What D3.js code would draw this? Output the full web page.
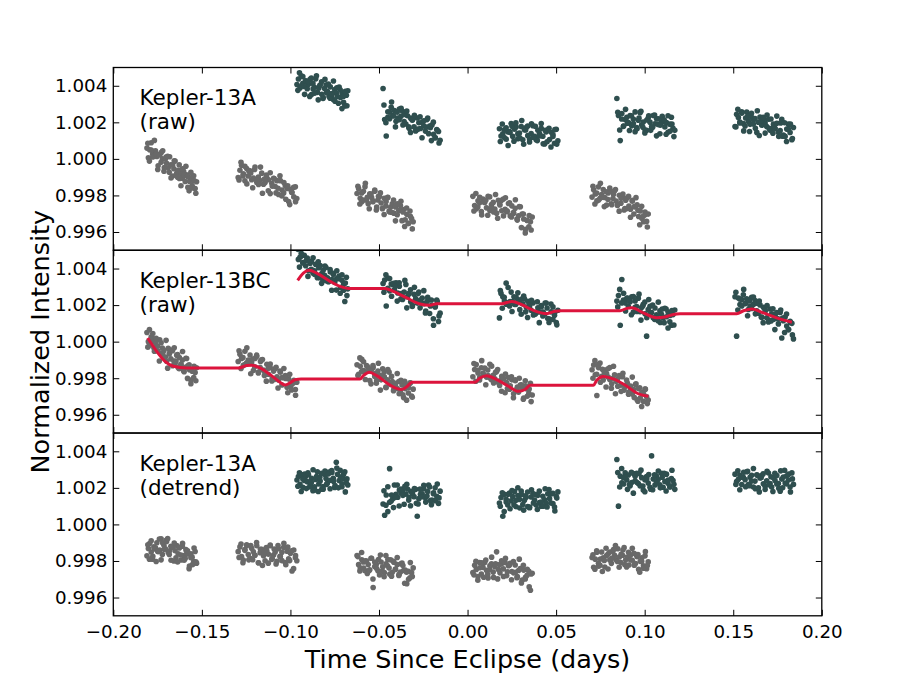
<!DOCTYPE html>
<html>
<head>
<meta charset="utf-8">
<script src="https://cdn.jsdelivr.net/npm/d3@7"></script>
<style>
body { margin: 0; background: #fff; }
text { font-family: "DejaVu Sans", sans-serif; }
</style>
</head>
<body>
<script>
// observing windows, time since eclipse (days); "b" arrays are the second pass over each window
var tg1 = [-0.1810,-0.1802,-0.1795,-0.1786,-0.1778,-0.1771,-0.1762,-0.1754,-0.1747,-0.1738,-0.1730,-0.1723,-0.1714,-0.1706,-0.1699,-0.1690,-0.1682,-0.1675,-0.1666,-0.1658,-0.1651,-0.1642,-0.1634,-0.1627,-0.1618,-0.1610,-0.1603,-0.1594,-0.1586,-0.1579,-0.1570,-0.1562,-0.1555,-0.1546,-0.1538,-0.1530];
var tg2 = [-0.1295,-0.1285,-0.1276,-0.1266,-0.1257,-0.1247,-0.1238,-0.1228,-0.1219,-0.1209,-0.1200,-0.1190,-0.1181,-0.1171,-0.1162,-0.1152,-0.1143,-0.1133,-0.1124,-0.1114,-0.1105,-0.1095,-0.1086,-0.1076,-0.1067,-0.1057,-0.1048,-0.1038,-0.1029,-0.1019,-0.1010,-0.1000,-0.0991,-0.0981,-0.0972,-0.0964];
var tg3 = [-0.0624,-0.0615,-0.0606,-0.0597,-0.0588,-0.0579,-0.0570,-0.0561,-0.0552,-0.0542,-0.0533,-0.0524,-0.0515,-0.0506,-0.0497,-0.0488,-0.0479,-0.0470,-0.0461,-0.0452,-0.0443,-0.0434,-0.0425,-0.0416,-0.0407,-0.0397,-0.0388,-0.0379,-0.0370,-0.0361,-0.0352,-0.0343,-0.0334,-0.0325,-0.0316,-0.0307];
var tg4 = [0.0030,0.0040,0.0049,0.0059,0.0068,0.0078,0.0087,0.0097,0.0107,0.0116,0.0126,0.0135,0.0145,0.0154,0.0164,0.0174,0.0183,0.0193,0.0202,0.0212,0.0221,0.0231,0.0241,0.0250,0.0260,0.0269,0.0279,0.0288,0.0298,0.0308,0.0317,0.0327,0.0336,0.0346,0.0355,0.0365];
var tg5 = [0.0703,0.0712,0.0721,0.0730,0.0739,0.0748,0.0757,0.0766,0.0775,0.0785,0.0794,0.0803,0.0812,0.0821,0.0830,0.0839,0.0848,0.0857,0.0866,0.0875,0.0884,0.0893,0.0902,0.0911,0.0920,0.0930,0.0939,0.0948,0.0957,0.0966,0.0975,0.0984,0.0993,0.1002,0.1011,0.1020];
var td1 = [-0.0963,-0.0955,-0.0946,-0.0939,-0.0930,-0.0922,-0.0914,-0.0905,-0.0898,-0.0889,-0.0881,-0.0873,-0.0864,-0.0857,-0.0848,-0.0840,-0.0832,-0.0823,-0.0816,-0.0807,-0.0799,-0.0791,-0.0782,-0.0775,-0.0766,-0.0758,-0.0750,-0.0741,-0.0734,-0.0725,-0.0717,-0.0709,-0.0700,-0.0693,-0.0684,-0.0676];
var td2 = [-0.0477,-0.0468,-0.0459,-0.0450,-0.0440,-0.0431,-0.0422,-0.0413,-0.0404,-0.0394,-0.0385,-0.0376,-0.0367,-0.0358,-0.0348,-0.0339,-0.0330,-0.0321,-0.0312,-0.0302,-0.0293,-0.0284,-0.0275,-0.0266,-0.0256,-0.0247,-0.0238,-0.0229,-0.0220,-0.0210,-0.0201,-0.0192,-0.0183,-0.0174,-0.0164,-0.0155];
var td3 = [0.0180,0.0189,0.0199,0.0208,0.0218,0.0227,0.0237,0.0246,0.0255,0.0265,0.0274,0.0284,0.0293,0.0303,0.0312,0.0321,0.0331,0.0340,0.0350,0.0359,0.0369,0.0378,0.0387,0.0397,0.0406,0.0416,0.0425,0.0435,0.0444,0.0453,0.0463,0.0472,0.0482,0.0491,0.0501,0.0510];
var td4 = [0.0843,0.0852,0.0862,0.0871,0.0880,0.0890,0.0899,0.0908,0.0918,0.0927,0.0936,0.0946,0.0955,0.0964,0.0974,0.0983,0.0992,0.1002,0.1011,0.1020,0.1030,0.1039,0.1048,0.1058,0.1067,0.1076,0.1086,0.1095,0.1104,0.1114,0.1123,0.1132,0.1142,0.1151,0.1160,0.1170];
var td5 = [0.1510,0.1519,0.1529,0.1538,0.1548,0.1557,0.1567,0.1576,0.1585,0.1595,0.1604,0.1614,0.1623,0.1633,0.1642,0.1651,0.1661,0.1670,0.1680,0.1689,0.1699,0.1708,0.1717,0.1727,0.1736,0.1746,0.1755,0.1765,0.1774,0.1783,0.1793,0.1802,0.1812,0.1821,0.1831,0.1840];

var tg1b = [-0.1805,-0.1796,-0.1786,-0.1777,-0.1768,-0.1758,-0.1749,-0.1740,-0.1730,-0.1721,-0.1712,-0.1702,-0.1693,-0.1684,-0.1674,-0.1665,-0.1656,-0.1646,-0.1637,-0.1628,-0.1618,-0.1609,-0.1600,-0.1590,-0.1581,-0.1572,-0.1562,-0.1553,-0.1544,-0.1534];
var tg2b = [-0.1290,-0.1279,-0.1268,-0.1257,-0.1246,-0.1235,-0.1224,-0.1213,-0.1202,-0.1191,-0.1180,-0.1169,-0.1158,-0.1147,-0.1136,-0.1125,-0.1114,-0.1103,-0.1092,-0.1081,-0.1070,-0.1059,-0.1048,-0.1037,-0.1026,-0.1015,-0.1004,-0.0993,-0.0982,-0.0971];
var tg3b = [-0.0619,-0.0608,-0.0598,-0.0587,-0.0577,-0.0566,-0.0555,-0.0545,-0.0534,-0.0524,-0.0513,-0.0503,-0.0492,-0.0481,-0.0471,-0.0460,-0.0450,-0.0439,-0.0429,-0.0418,-0.0407,-0.0397,-0.0386,-0.0376,-0.0365,-0.0355,-0.0344,-0.0333,-0.0323,-0.0312];
var tg4b = [0.0036,0.0047,0.0058,0.0069,0.0080,0.0091,0.0103,0.0114,0.0125,0.0136,0.0147,0.0158,0.0170,0.0181,0.0192,0.0203,0.0214,0.0225,0.0237,0.0248,0.0259,0.0270,0.0281,0.0292,0.0304,0.0315,0.0326,0.0337,0.0348,0.0359];
var tg5b = [0.0708,0.0719,0.0729,0.0740,0.0750,0.0761,0.0772,0.0782,0.0793,0.0803,0.0814,0.0824,0.0835,0.0846,0.0856,0.0867,0.0877,0.0888,0.0898,0.0909,0.0920,0.0930,0.0941,0.0951,0.0962,0.0972,0.0983,0.0994,0.1004,0.1015];
var td1b = [-0.0958,-0.0949,-0.0939,-0.0930,-0.0920,-0.0910,-0.0901,-0.0891,-0.0882,-0.0872,-0.0863,-0.0853,-0.0843,-0.0834,-0.0824,-0.0815,-0.0805,-0.0796,-0.0786,-0.0776,-0.0767,-0.0757,-0.0748,-0.0738,-0.0729,-0.0719,-0.0709,-0.0700,-0.0690,-0.0681];
var td2b = [-0.0472,-0.0461,-0.0450,-0.0440,-0.0429,-0.0418,-0.0407,-0.0397,-0.0386,-0.0375,-0.0365,-0.0354,-0.0343,-0.0332,-0.0322,-0.0311,-0.0300,-0.0289,-0.0279,-0.0268,-0.0257,-0.0247,-0.0236,-0.0225,-0.0214,-0.0204,-0.0193,-0.0182,-0.0171,-0.0161];
var td3b = [0.0185,0.0196,0.0207,0.0218,0.0229,0.0240,0.0251,0.0262,0.0273,0.0284,0.0295,0.0306,0.0317,0.0328,0.0339,0.0350,0.0361,0.0372,0.0383,0.0394,0.0405,0.0416,0.0427,0.0438,0.0449,0.0460,0.0471,0.0482,0.0493,0.0504];
var td4b = [0.0848,0.0859,0.0870,0.0881,0.0892,0.0903,0.0914,0.0925,0.0936,0.0946,0.0957,0.0968,0.0979,0.0990,0.1001,0.1012,0.1023,0.1034,0.1045,0.1056,0.1067,0.1077,0.1088,0.1099,0.1110,0.1121,0.1132,0.1143,0.1154,0.1165];
var td5b = [0.1515,0.1526,0.1537,0.1548,0.1559,0.1570,0.1581,0.1592,0.1603,0.1614,0.1625,0.1636,0.1647,0.1658,0.1669,0.1680,0.1691,0.1702,0.1713,0.1724,0.1735,0.1746,0.1757,0.1768,0.1779,0.1790,0.1801,0.1812,0.1823,0.1834];

// flux offsets from 1.0 in ppm
// Kepler-13A raw
var aRawG1 = [590,60,500,880,270,160,440,130,-380,240,340,0,-680,-10,-240,-490,120,-330,-940,-540,-120,-790,-630,-1070,-780,-1060,-680,-1240,-870,-1560,-1220,-1030,-1460,-920,-1620,-1250];
var aRawG2 = [-1020,-620,-350,-810,-1200,-530,-930,-650,-1140,-1050,-440,-1290,-990,-1180,-780,-1390,-1290,-1050,-1140,-1900,-1340,-1060,-1510,-1190,-1950,-1190,-1700,-1860,-1470,-1620,-2330,-1660,-1840,-2080,-1530,-2170];
var aRawG3 = [-1890,-1630,-2160,-2350,-1770,-1520,-2250,-2450,-1910,-2100,-2290,-1770,-2800,-2250,-2060,-2410,-2690,-2160,-2580,-2120,-2860,-2630,-2460,-2970,-2630,-3060,-2820,-2550,-3380,-2770,-3330,-3030,-3520,-2850,-3270,-3440];
var aRawG4 = [-2050,-2550,-2740,-2290,-2400,-2880,-2200,-2390,-2680,-2050,-2820,-2500,-2380,-2740,-2970,-2260,-2520,-2840,-2200,-2760,-2890,-2440,-3120,-2570,-2970,-2700,-3290,-3110,-2620,-3020,-3290,-3850,-3360,-3720,-3440,-3180];
var aRawG5 = [-2090,-1690,-1920,-2300,-1530,-2160,-1950,-1680,-2110,-2530,-1870,-1760,-2460,-2170,-1740,-2310,-2500,-1990,-2430,-2080,-2800,-2260,-2130,-2580,-2750,-2320,-3020,-2620,-2510,-3150,-2850,-3250,-3130,-2910,-3420,-3020];
var aRawD1 = [4070,4370,3880,4550,4130,3960,4270,3840,4080,4350,3520,4130,3920,4380,3640,3870,4040,3530,3300,3850,4040,3690,3410,3940,3450,3250,3790,3600,3410,3930,3360,3620,3090,2900,3480,3730];
var aRawD2 = [3850,2150,1250,2280,2560,2820,2380,2650,2060,2240,2730,2330,2600,2040,1910,2360,1680,2230,2120,1760,1530,2240,1980,1660,2000,1810,1520,2150,1380,1700,1850,1350,1160,1610,1500,1020];
var aRawD3 = [1650,1250,1370,1590,1080,1480,1500,1930,1230,1630,1740,1100,1420,1770,1050,1590,1720,1270,1090,1380,1810,1240,1050,1560,1400,1670,1240,820,1480,1590,1060,1460,1230,850,1620,990];
var aRawD4 = [3300,2370,1000,2480,1780,2150,2270,1990,2370,1810,2180,1490,1710,2110,2530,1860,2020,1580,1570,2240,2010,1760,2370,1920,2190,1880,1370,1990,2090,1750,1990,1460,1900,2280,1670,1560];
var aRawD5 = [1770,2440,2260,2020,2570,1930,1800,2560,2050,1890,2280,2130,2210,1450,2010,2290,1840,2160,1960,1770,2170,1560,1660,1900,1670,1950,1460,1550,2160,1310,1230,1630,1900,1440,1050,1720];
var aRawG1b = [850,-120,480,100,1010,250,-580,230,-190,440,-480,100,140,-730,-1040,-330,-100,-900,-1000,-330,-1470,-540,-890,-400,-960,-1750,-740,-1590,-1190,-1880];
var aRawG2b = [-1150,-190,-930,-400,-1370,-660,-770,-1580,-580,-1170,-1400,-450,-1880,-1100,-890,-1750,-760,-1490,-1080,-1860,-1610,-920,-2030,-1290,-2210,-1470,-2500,-1820,-1550,-2340];
var aRawG3b = [-1500,-2470,-1870,-2250,-1340,-2100,-2730,-1920,-2340,-1710,-2630,-2050,-1860,-2730,-3040,-2330,-2100,-2900,-2920,-2250,-3390,-2460,-2810,-2320,-2910,-3700,-2690,-3540,-3140,-3830];
var aRawG4b = [-2850,-1890,-2630,-2100,-3070,-2360,-2270,-3080,-2080,-2670,-2900,-1950,-3250,-2470,-2260,-3120,-2130,-2860,-2400,-3180,-2930,-2240,-3350,-2610,-3760,-3020,-4050,-3370,-3100,-3890];
var aRawG5b = [-1500,-2470,-1870,-2250,-1340,-2100,-2610,-1800,-2220,-1590,-2510,-1930,-1680,-2550,-2860,-2150,-1920,-2720,-2720,-2050,-3190,-2260,-2610,-2120,-2810,-3600,-2590,-3440,-3040,-3730];
var aRawD1b = [3750,4710,3970,4500,3530,4240,4230,3420,4420,3830,3600,4550,3230,4010,4220,3360,4350,3620,4100,3320,3570,4260,3150,3890,3040,3780,2750,3430,3700,2910];
var aRawD2b = [2950,1980,2580,2200,3110,2350,1750,2560,2140,2770,1850,2430,2620,1750,1440,2150,2380,1580,1630,2300,1160,2090,1740,2230,1790,1000,2010,1160,1560,870];
var aRawD3b = [950,1910,1170,1700,730,1440,1780,970,1970,1380,1150,2100,800,1580,1790,930,1920,1190,1780,1000,1250,1940,830,1570,940,1680,650,1330,1600,810];
var aRawD4b = [2550,1580,2180,1800,2710,1950,1550,2360,1940,2570,1650,2230,2600,1730,1420,2130,2360,1560,1730,2400,1260,2190,1840,2330,2140,1350,2360,1510,1910,1220];
var aRawD5b = [1750,2710,1970,2500,1530,2240,2310,1500,2500,1910,1680,2630,1280,2060,2270,1410,2400,1670,2180,1400,1650,2340,1230,1970,1240,1980,950,1630,1900,1110];

// Kepler-13BC raw
var bcRawG1 = [500,0,-190,260,150,-330,-50,-240,-530,100,-670,-350,-480,-840,-1070,-360,-620,-940,-500,-1060,-1190,-740,-1420,-870,-1270,-1000,-1590,-1410,-920,-1320,-1540,-2100,-1610,-1970,-1690,-1430];
var bcRawG2 = [-1090,-690,-920,-1300,-530,-1160,-1000,-730,-1160,-1580,-920,-810,-1710,-1420,-990,-1560,-1750,-1240,-1780,-1430,-2150,-1610,-1480,-1930,-2100,-1670,-2370,-1970,-1860,-2500,-2050,-2450,-2330,-2110,-2620,-2220];
var bcRawG3 = [-1260,-1790,-1350,-970,-1580,-1690,-1310,-1620,-2130,-1510,-1410,-1750,-2280,-1610,-1840,-2090,-1480,-1930,-2490,-2090,-1670,-2340,-2180,-2620,-2280,-2560,-2180,-2740,-2370,-3060,-2570,-2380,-2810,-2270,-2970,-2600];
var bcRawG4 = [-1920,-1520,-1250,-1710,-2100,-1430,-1730,-1450,-1940,-1850,-1240,-2090,-1840,-2030,-1630,-2240,-2140,-1900,-2040,-2800,-2240,-1960,-2410,-2090,-2850,-2090,-2600,-2760,-2370,-2520,-3080,-2410,-2590,-2830,-2280,-2920];
var bcRawG5 = [-1540,-1280,-1810,-2950,-1420,-1170,-1900,-2100,-1560,-1750,-1940,-1420,-2550,-2000,-1810,-2160,-2440,-1910,-2380,-1920,-2660,-2430,-2260,-2770,-2430,-2860,-2620,-2350,-3180,-2570,-3080,-2780,-3270,-2600,-3020,-3190];
var bcRawD1 = [5200,4500,4620,4840,4330,4730,4150,4580,3880,4280,4390,3750,3870,4220,3500,4040,4170,3720,3340,3630,4060,3490,3300,3810,3400,3670,3240,2820,3480,3590,2960,3360,3130,2200,3520,2890];
var bcRawD2 = [3180,3370,1950,3480,2780,3150,3120,2840,3220,2660,3030,2340,2310,2710,3130,2460,2620,2180,1920,2590,2360,2110,2720,2270,2390,2080,1570,2190,2290,1950,1990,900,1900,2280,1100,1560];
var bcRawD3 = [1300,2640,2460,2220,3200,2130,1950,2710,2200,2040,2430,2280,2260,1500,2060,2340,1890,2210,1910,1720,2120,1510,1610,1850,1620,1900,1410,1500,2110,1260,1230,1630,1900,1440,1050,1720];
var bcRawD4 = [2220,2520,900,3400,2280,2110,2370,1940,2180,2450,1620,2230,1920,2380,1640,1870,2040,1530,300,1750,1940,1590,1310,1840,1350,1150,1690,1500,1310,1830,1360,1620,1090,900,1480,1730];
var bcRawD5 = [2460,300,2390,2030,2310,2570,2080,2350,1760,1940,2430,2030,2250,1690,1560,2010,1330,1880,1670,1310,1080,1790,1530,1210,1450,1260,970,1600,200,1150,1350,850,660,1110,1000,150];
var bcRawG1b = [-300,660,-80,450,-520,190,-250,-1060,-60,-650,-880,70,-1450,-670,-460,-1320,-330,-1060,-700,-1480,-1230,-540,-1650,-910,-2010,-1270,-2300,-1620,-1350,-2140];
var bcRawG2b = [-500,-1470,-870,-1250,-340,-1100,-1760,-950,-1370,-740,-1660,-1080,-980,-1850,-2160,-1450,-1220,-2020,-2070,-1400,-2540,-1610,-1960,-1470,-2010,-2800,-1790,-2640,-2240,-2930];
var bcRawG3b = [-1850,-890,-1630,-1100,-2070,-1360,-1500,-2310,-1310,-1900,-2130,-1180,-2650,-1870,-1660,-2520,-1530,-2260,-1900,-2680,-2430,-1740,-2850,-2110,-2910,-2170,-3200,-2520,-2250,-3040];
var bcRawG4b = [-1200,-2170,-1570,-1950,-1040,-1800,-2360,-1550,-1970,-1340,-2260,-1680,-1530,-2400,-2710,-2000,-1770,-2570,-2600,-1930,-3070,-2140,-2490,-2000,-2360,-3150,-2140,-2990,-2590,-3280];
var bcRawG5b = [-2000,-1040,-1780,-1250,-2220,-1510,-1670,-2480,-1480,-2070,-2300,-1350,-2850,-2070,-1860,-2720,-1730,-2460,-2100,-2880,-2630,-1940,-3050,-2310,-3260,-2520,-3550,-2870,-2600,-3390];
var bcRawD1b = [5050,4080,4680,4300,5210,4450,3570,4380,3960,4590,3670,4250,4370,3500,3190,3900,4130,3330,3280,3950,2810,3740,3390,3880,3440,2650,3660,2810,3210,2520];
var bcRawD2b = [2700,3660,2920,3450,2480,3190,3030,2220,3220,2630,2400,3350,1850,2630,2840,1980,2970,2240,2630,1850,2100,2790,1680,2420,1540,2280,1250,1930,2200,1410];
var bcRawD3b = [2800,1830,2430,2050,2960,2200,1650,2460,2040,2670,1750,2330,2500,1630,1320,2030,2260,1460,1510,2180,1040,1970,1620,2110,1840,1050,2060,1210,1610,920];
var bcRawD4b = [1900,2860,2120,2650,1680,2390,2280,1470,2470,1880,1650,2600,1180,1960,2170,1310,2300,1570,2000,1220,1470,2160,1050,1790,1040,1780,750,1430,1700,910];
var bcRawD5b = [2700,1730,2330,1950,2860,2100,1420,2230,1810,2440,1520,2100,2220,1350,1040,1750,1980,1180,1130,1800,660,1590,1240,1730,1290,500,1510,660,1060,370];

// Kepler-13A detrended
var aDetG1 = [-1720,-1320,-1050,-1510,-1900,-1230,-1280,-1000,-1490,-1400,-790,-1640,-1140,-1330,-930,-1540,-1440,-1200,-1240,-2000,-1440,-1160,-1610,-1290,-1950,-1190,-1700,-1860,-1470,-1620,-2280,-1610,-1790,-2030,-1480,-2120];
var aDetG2 = [-1490,-1230,-1760,-1950,-1370,-1120,-1650,-1850,-1310,-1500,-1690,-1170,-2100,-1550,-1360,-1710,-1990,-1460,-1630,-1170,-1910,-1680,-1510,-2020,-1330,-1760,-1520,-1250,-2080,-1470,-1880,-1580,-2550,-1400,-1820,-1990];
var aDetG3 = [-1700,-2200,-2390,-1940,-2050,-2530,-2000,-2190,-2480,-1850,-3450,-2300,-2180,-2540,-2770,-2060,-2320,-2640,-1700,-2260,-2390,-1940,-2620,-2070,-2470,-2200,-2790,-2610,-2120,-2520,-2490,-3250,-2560,-2920,-2640,-2380];
var aDetG4 = [-2640,-2240,-2470,-2850,-2080,-2710,-2350,-2080,-2510,-2930,-2270,-2160,-2610,-2320,-1500,-2460,-2650,-2140,-2430,-2080,-2800,-2260,-2130,-2580,-2650,-2220,-2920,-2520,-2410,-3050,-2500,-2900,-2780,-2560,-3600,-2670];
var aDetG5 = [-1810,-2340,-1900,-1520,-2130,-2240,-1510,-1820,-2330,-1710,-1610,-1950,-2130,-1460,-1690,-1940,-1330,-1780,-2090,-1690,-1270,-1940,-1780,-2220,-1680,-1960,-1580,-2140,-1770,-2460,-2020,-1830,-2260,-1720,-2420,-2050];
var aDetD1 = [2430,2620,2190,2730,2030,2400,2620,2340,2720,2160,2530,1840,2060,2460,2880,2210,2370,1930,2070,2740,2510,2260,2870,2420,2840,2530,2020,3400,2740,2400,2590,2060,2500,2880,2270,2160];
var aDetD2 = [1120,500,1610,700,3050,1280,1400,2160,1650,1490,1880,1730,1860,1100,1660,1940,1490,1810,1710,1520,1920,450,1410,1650,1670,1950,1460,1550,2160,1310,1330,1730,2000,1540,1150,1820];
var aDetD3 = [1170,1470,450,1650,1230,1060,1720,1290,1530,1800,970,1580,1370,1830,1090,1320,1490,980,950,1500,1690,1340,1060,1590,1200,1000,1540,1350,1160,1680,1410,1670,1140,950,1530,1780];
var aDetD4 = [3550,1000,2640,2280,2560,2820,2430,2700,2110,2290,2780,2380,2800,2240,2110,2560,1880,2430,2620,2260,2030,3750,2480,2160,2650,2460,2170,2800,2030,2350,2750,2250,2060,2510,2400,1920];
var aDetD5 = [2750,2350,2470,2690,2180,2580,2450,2880,2180,2580,2690,2050,2370,2720,2000,2540,2670,2220,2090,2380,2810,2240,2050,2560,2400,2670,2240,1820,2480,2590,2260,2660,2430,2050,2820,2190];
var aDetG1b = [-1110,-1900,-890,-1740,-1340,-2030,-1470,-800,-1940,-1010,-1360,-870,-780,-1650,-1960,-1250,-1020,-1820,-2060,-1250,-1670,-1040,-1960,-1380,-1450,-2420,-1820,-2200,-1290,-2050];
var aDetG2b = [-1810,-1070,-2100,-1420,-1150,-1940,-1150,-1930,-1680,-990,-2100,-1360,-2250,-1470,-1260,-2120,-1130,-1860,-1350,-2160,-1160,-1750,-1980,-1030,-2200,-1240,-1980,-1450,-2420,-1710];
var aDetG3b = [-1760,-2550,-1540,-2390,-1990,-2680,-2520,-1850,-2990,-2060,-2410,-1920,-1680,-2550,-2860,-2150,-1920,-2720,-2830,-2020,-2440,-1810,-2730,-2150,-2250,-3220,-2620,-3000,-2090,-2850];
var aDetG4b = [-2760,-2020,-3050,-2370,-2100,-2890,-1950,-2730,-2480,-1790,-2900,-2160,-2980,-2200,-1990,-2850,-1860,-2590,-2220,-3030,-2030,-2620,-2850,-1900,-3200,-2240,-2980,-2450,-3420,-2710];
var aDetG5b = [-1660,-2450,-1440,-2290,-1890,-2580,-1970,-1300,-2440,-1510,-1860,-1370,-1160,-2030,-2340,-1630,-1400,-2200,-2330,-1520,-1940,-1310,-2230,-1650,-1650,-2620,-2020,-2400,-1490,-2250];
var aDetD1b = [2090,2830,1800,2480,2750,1960,2830,2050,2300,2990,1880,2620,1800,2580,2790,1930,2920,2190,2760,1950,2950,2360,2130,3080,2000,2960,2220,2750,1780,2490];
var aDetD2b = [1840,1050,2060,1210,1610,920,1480,2150,1010,1940,1590,2080,2200,1330,1020,1730,1960,1160,1120,1930,1510,2140,1220,1800,2050,1080,1680,1300,2210,1450];
var aDetD3b = [990,1730,700,1380,1650,860,1850,1070,1320,2010,900,1640,780,1560,1770,910,1900,1170,1630,820,1820,1230,1000,1950,950,1910,1170,1700,730,1440];
var aDetD4b = [2840,2050,3060,2210,2610,1920,2180,2850,1710,2640,2290,2780,2970,2100,1790,2500,2730,1930,1900,2710,2290,2920,2000,2580,2800,1830,2430,2050,2960,2200];
var aDetD5b = [2190,2930,1900,2580,2850,2060,2900,2120,2370,3060,1950,2690,1780,2560,2770,1910,2900,2170,2610,1800,2800,2210,1980,2930,2000,2960,2220,2750,1780,2490];

// trend model over Kepler-13BC (time, ppm)
var bcModelGrayT = [-0.1806,-0.1755,-0.1708,-0.1661,-0.1586,-0.1293,-0.1247,-0.1219,-0.1172,-0.1115,-0.1059,-0.1031,-0.1003,-0.0974,-0.0940,-0.0607,-0.0588,-0.0554,-0.0513,-0.0456,-0.0409,-0.0372,-0.0340,-0.0315,-0.0280,0.0042,0.0070,0.0108,0.0165,0.0231,0.0287,0.0325,0.0353,0.0390,0.0711,0.0729,0.0767,0.0823,0.0899,0.0955,0.1021];
var bcModelGrayF = [200,-530,-1080,-1350,-1440,-1440,-1310,-1290,-1440,-1800,-2220,-2370,-2260,-2080,-2050,-2050,-1860,-1680,-1860,-2260,-2530,-2620,-2440,-2220,-2220,-2220,-1990,-1860,-2080,-2440,-2720,-2620,-2390,-2390,-2390,-2110,-1900,-2040,-2440,-2810,-2990];
var bcModelDarkT = [-0.0959,-0.0927,-0.0893,-0.0852,-0.0776,-0.0720,-0.0673,-0.0466,-0.0419,-0.0343,-0.0268,-0.0212,-0.0174,-0.0140,0.0193,0.0250,0.0306,0.0372,0.0447,0.0494,0.0530,0.0861,0.0899,0.0927,0.0993,0.1068,0.1115,0.1162,0.1200,0.1520,0.1558,0.1605,0.1670,0.1746,0.1831];
var bcModelDarkF = [3350,3750,3900,3750,3300,3020,2910,2910,2750,2390,2060,1990,2080,2080,2080,2200,2020,1710,1530,1660,1690,1690,1820,1860,1570,1310,1350,1490,1530,1530,1690,1790,1570,1300,1060];

var xTicks = [-0.20, -0.15, -0.10, -0.05, 0.00, 0.05, 0.10, 0.15, 0.20];
var yTicks = [0.996, 0.998, 1.000, 1.002, 1.004];
var panelLabels = [['Kepler-13A', '(raw)'], ['Kepler-13BC', '(raw)'], ['Kepler-13A', '(detrend)']];

var width = 913;
var height = 685;
var plotLeft = 113.3, plotRight = 821.8, plotTop = 67.5, plotBottom = 615.8;
var panelH = (plotBottom - plotTop) / 3;
var grayColor = '#696969', darkColor = '#2f4f4f', modelColor = '#dc143c';

var grayTimes = [tg1.concat(tg1b), tg2.concat(tg2b), tg3.concat(tg3b), tg4.concat(tg4b), tg5.concat(tg5b)];
var darkTimes = [td1.concat(td1b), td2.concat(td2b), td3.concat(td3b), td4.concat(td4b), td5.concat(td5b)];

var panels = [
    {gray: [aRawG1.concat(aRawG1b), aRawG2.concat(aRawG2b), aRawG3.concat(aRawG3b), aRawG4.concat(aRawG4b), aRawG5.concat(aRawG5b)],
     dark: [aRawD1.concat(aRawD1b), aRawD2.concat(aRawD2b), aRawD3.concat(aRawD3b), aRawD4.concat(aRawD4b), aRawD5.concat(aRawD5b)]},
    {gray: [bcRawG1.concat(bcRawG1b), bcRawG2.concat(bcRawG2b), bcRawG3.concat(bcRawG3b), bcRawG4.concat(bcRawG4b), bcRawG5.concat(bcRawG5b)],
     dark: [bcRawD1.concat(bcRawD1b), bcRawD2.concat(bcRawD2b), bcRawD3.concat(bcRawD3b), bcRawD4.concat(bcRawD4b), bcRawD5.concat(bcRawD5b)],
     models: [[bcModelGrayT, bcModelGrayF], [bcModelDarkT, bcModelDarkF]]},
    {gray: [aDetG1.concat(aDetG1b), aDetG2.concat(aDetG2b), aDetG3.concat(aDetG3b), aDetG4.concat(aDetG4b), aDetG5.concat(aDetG5b)],
     dark: [aDetD1.concat(aDetD1b), aDetD2.concat(aDetD2b), aDetD3.concat(aDetD3b), aDetD4.concat(aDetD4b), aDetD5.concat(aDetD5b)]}
];

var svg = d3.select('body').append('svg')
    .attr('width', width)
    .attr('height', height);

var x = d3.scaleLinear().domain([-0.2, 0.2]).range([plotLeft, plotRight]);

function flux(ppm) { return 1 + ppm / 1e6; }

function styleAxis(g) {
    g.select('.domain').remove();
    g.selectAll('.tick line').attr('stroke', '#000').attr('stroke-width', 1);
    g.selectAll('.tick text').attr('fill', '#000')
        .style('font-family', '"DejaVu Sans", sans-serif')
        .style('font-size', '18.3px');
}

panels.forEach(function(p, k) {
    var y0 = plotTop + k * panelH;
    var y = d3.scaleLinear().domain([0.995, 1.005]).range([y0 + panelH, y0]);

    svg.append('clipPath').attr('id', 'clip' + k)
        .append('rect')
        .attr('x', plotLeft).attr('y', y0)
        .attr('width', plotRight - plotLeft).attr('height', panelH);

    var plot = svg.append('g').attr('clip-path', 'url(#clip' + k + ')');

    function drawPoints(times, series, color) {
        series.forEach(function(f, i) {
            plot.selectAll(null)
                .data(d3.zip(times[i], f))
                .enter().append('circle')
                .attr('cx', function(d) { return x(d[0]); })
                .attr('cy', function(d) { return y(flux(d[1])); })
                .attr('r', 2.8)
                .attr('fill', color);
        });
    }
    drawPoints(grayTimes, p.gray, grayColor);
    drawPoints(darkTimes, p.dark, darkColor);

    if (p.models) {
        var line = d3.line()
            .x(function(d) { return x(d[0]); })
            .y(function(d) { return y(flux(d[1])); })
            .curve(d3.curveMonotoneX);
        p.models.forEach(function(m) {
            plot.append('path')
                .datum(d3.zip(m[0], m[1]))
                .attr('d', line)
                .attr('fill', 'none')
                .attr('stroke', modelColor)
                .attr('stroke-width', 3);
        });
    }

    // inward ticks on all four sides
    svg.append('g').attr('transform', 'translate(' + plotLeft + ',0)')
        .call(d3.axisLeft(y).tickValues(yTicks).tickSize(-6).tickPadding(6).tickFormat(d3.format('.3f')))
        .call(styleAxis);
    svg.append('g').attr('transform', 'translate(' + plotRight + ',0)')
        .call(d3.axisRight(y).tickValues(yTicks).tickSize(-6).tickFormat(''))
        .call(styleAxis);
    svg.append('g').attr('transform', 'translate(0,' + y0 + ')')
        .call(d3.axisTop(x).tickValues(xTicks).tickSize(-6).tickFormat(''))
        .call(styleAxis);
    svg.append('g').attr('transform', 'translate(0,' + (y0 + panelH) + ')')
        .call(d3.axisBottom(x).tickValues(xTicks).tickSize(-6).tickPadding(9)
            .tickFormat(k === 2 ? d3.format('.2f') : ''))
        .call(styleAxis);

    svg.append('rect')
        .attr('x', plotLeft).attr('y', y0)
        .attr('width', plotRight - plotLeft).attr('height', panelH)
        .attr('fill', 'none')
        .attr('stroke', '#000')
        .attr('stroke-width', 1.3);

    svg.append('text')
        .attr('x', 139.5)
        .attr('y', y0 + 37.5)
        .style('font-size', '21.5px')
        .selectAll('tspan')
        .data(panelLabels[k])
        .enter().append('tspan')
        .attr('x', 139.5)
        .attr('dy', function(d, i) { return i === 0 ? 0 : 24; })
        .text(function(d) { return d; });
});

svg.append('text')
    .attr('x', (plotLeft + plotRight) / 2)
    .attr('y', 668.3)
    .attr('text-anchor', 'middle')
    .style('font-size', '25.5px')
    .text('Time Since Eclipse (days)');

svg.append('text')
    .attr('transform', 'translate(49,' + ((plotTop + plotBottom) / 2) + ') rotate(-90)')
    .attr('text-anchor', 'middle')
    .style('font-size', '25.5px')
    .text('Normalized Intensity');
</script>
</body>
</html>
